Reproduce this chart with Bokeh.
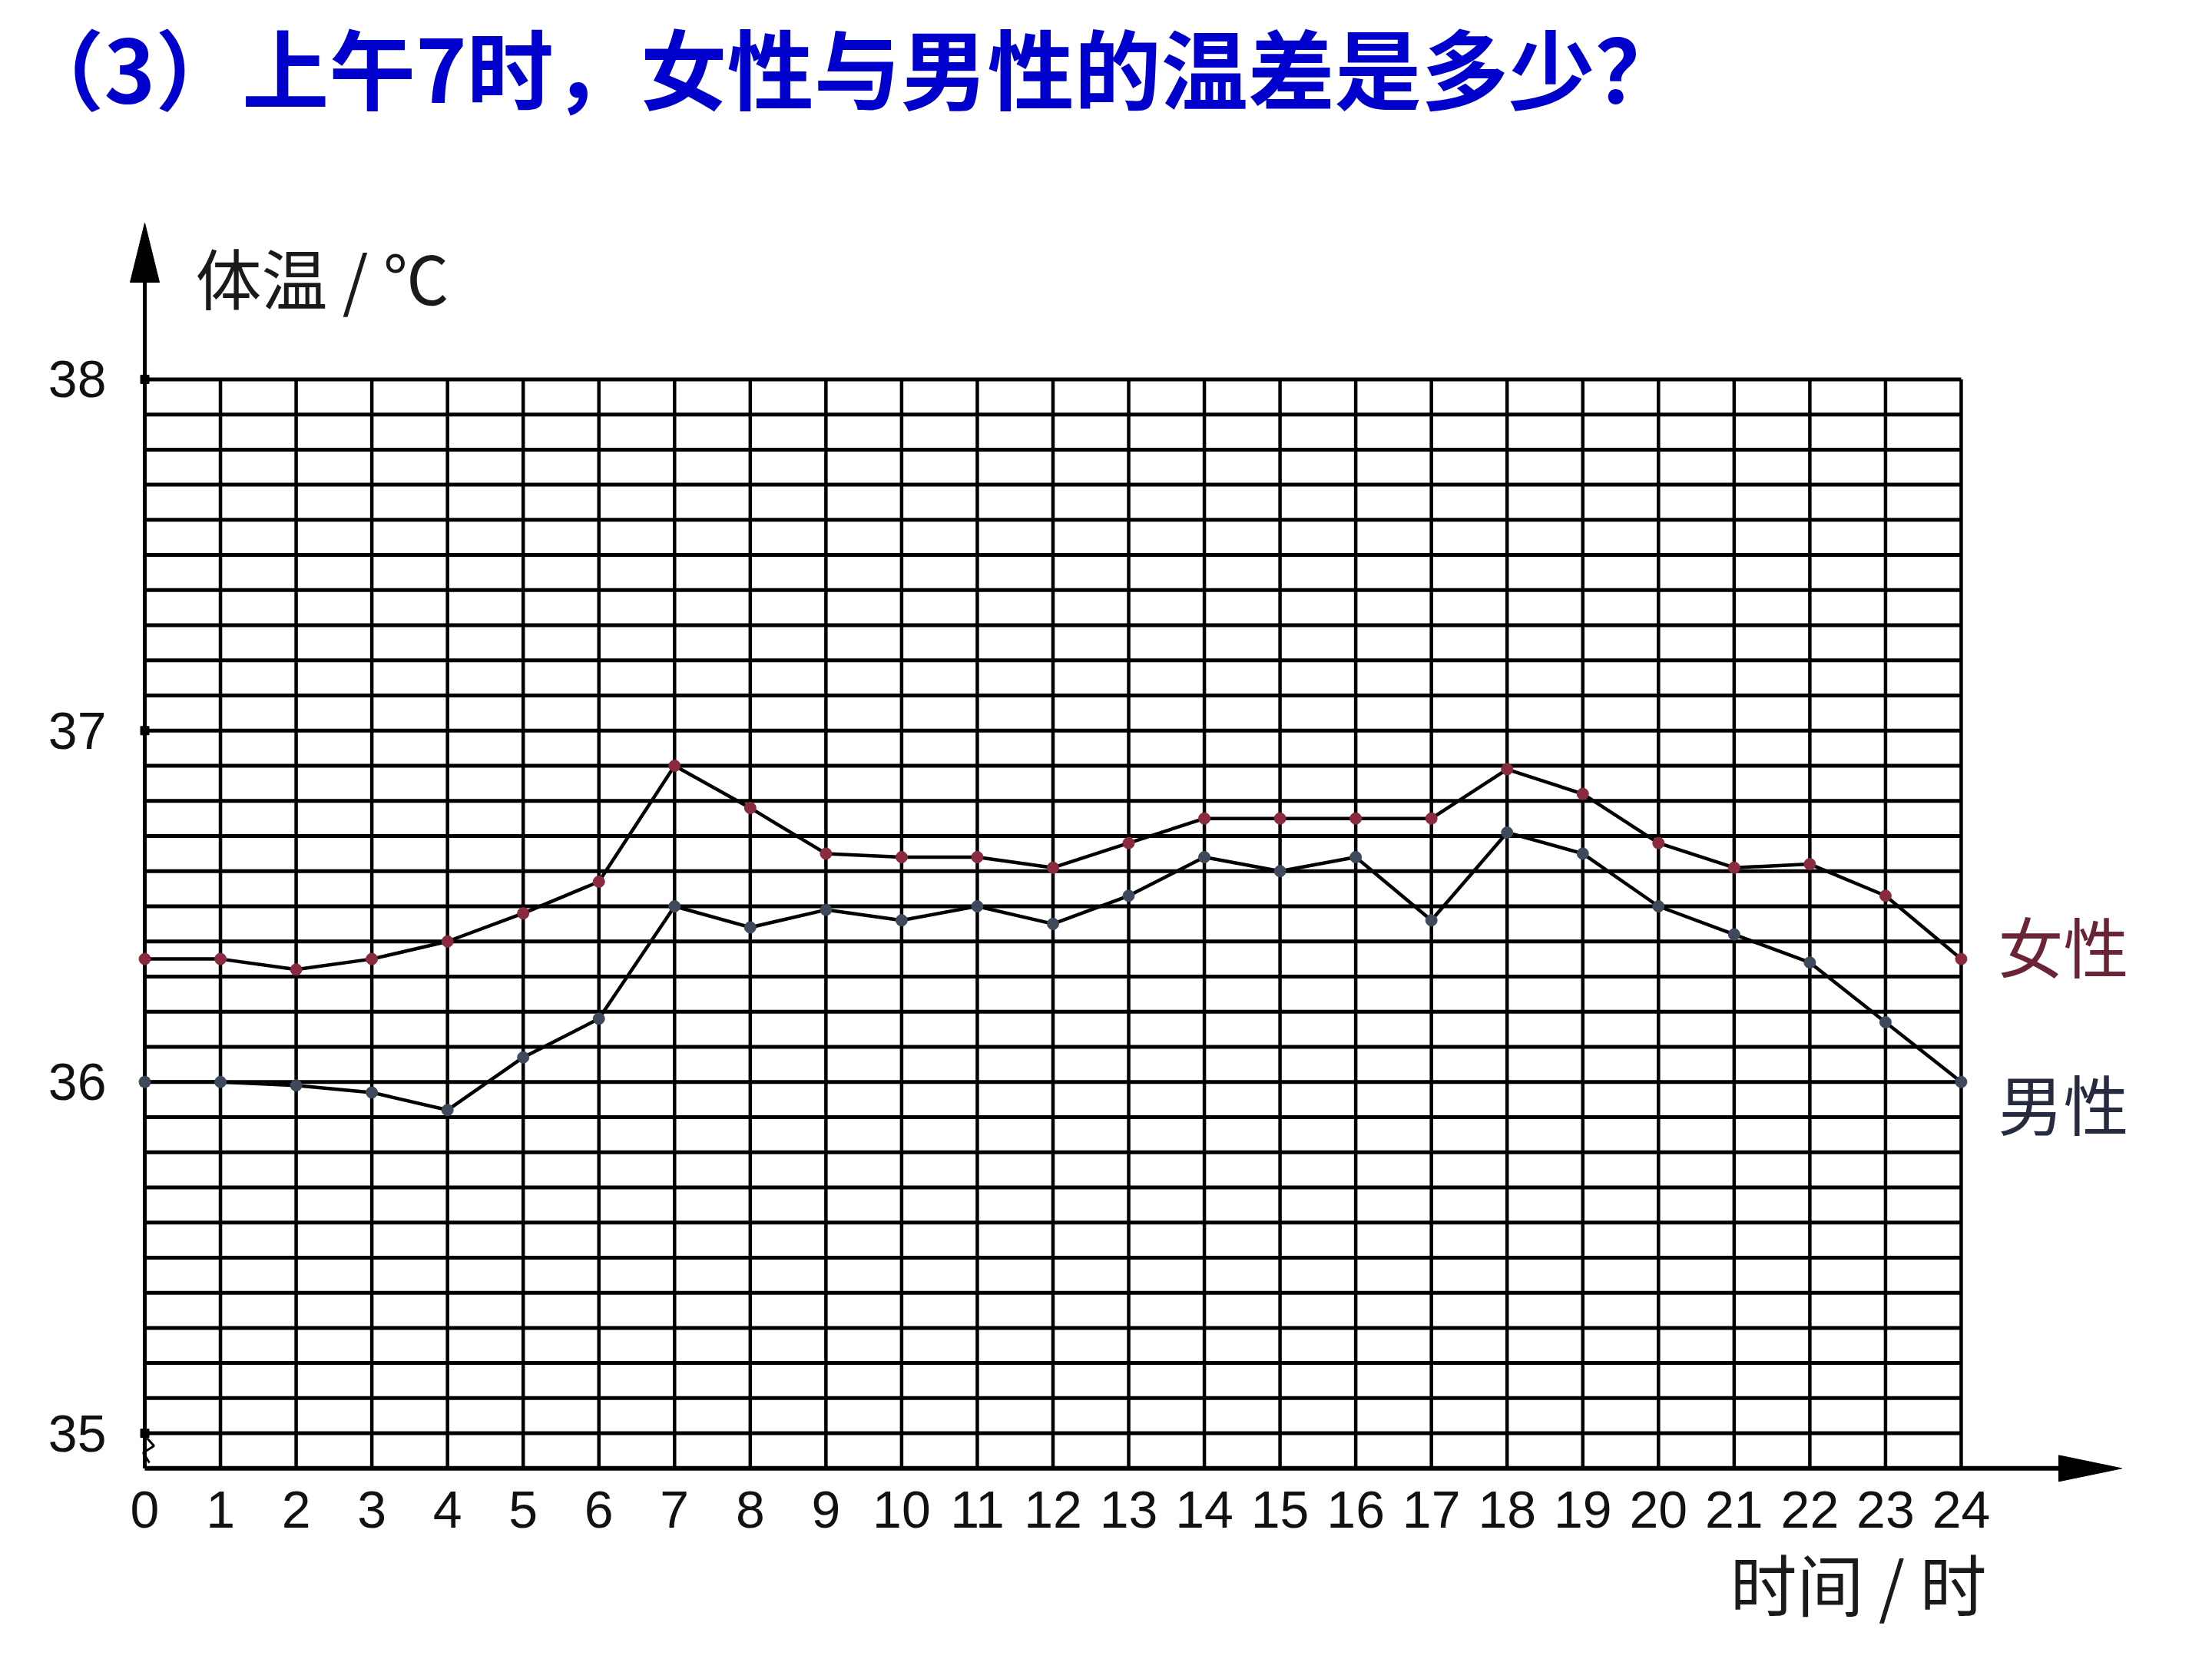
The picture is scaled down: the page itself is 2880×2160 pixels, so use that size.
from bokeh.plotting import figure
from bokeh.models import Range1d
from bokeh.embed import file_html
from bokeh.resources import INLINE
from bokeh.core.properties import value

# ---------------- data ----------------
hours = list(range(25))
hour_labels = [str(h) for h in hours]
female = [36.35, 36.35, 36.32, 36.35, 36.40, 36.48, 36.57, 36.90, 36.78, 36.65,
          36.64, 36.64, 36.61, 36.68, 36.75, 36.75, 36.75, 36.75, 36.89, 36.82,
          36.68, 36.61, 36.62, 36.53, 36.35]
male = [36.00, 36.00, 35.99, 35.97, 35.92, 36.07, 36.18, 36.50, 36.44, 36.49,
        36.46, 36.50, 36.45, 36.53, 36.64, 36.60, 36.64, 36.46, 36.71, 36.65,
        36.50, 36.42, 36.34, 36.17, 36.00]
y_ticks = [35, 36, 37, 38]
y_tick_labels = ["35", "36", "37", "38"]
grid_levels = [round(35 + i / 10, 1) for i in range(31)]
axis_base = 34.9

title_text = "（3）上午7时，女性与男性的温差是多少？"
y_label_text = "体温 / ℃"
x_label_text = "时间 / 时"
female_name = "女性"
male_name = "男性"

# ---------------- layout helpers (page pixels -> data) ----------------
X0_PAGE = 196.0
PX_PER_HOUR = 98.54
Y38_PAGE = 501.4
PX_PER_DEG = 457.4


def xd(px):
    return (px - X0_PAGE) / PX_PER_HOUR


def yd(py):
    return 38 - (py - Y38_PAGE) / PX_PER_DEG


W, H = 2864, 2144

p = figure(width=W, height=H, output_backend="svg", toolbar_location=None,
           title=None, x_axis_location=None, y_axis_location=None,
           x_range=Range1d(xd(8), xd(8 + W)),
           y_range=Range1d(yd(8 + H), yd(8)),
           min_border=0, min_border_left=0, min_border_right=0,
           min_border_top=0, min_border_bottom=0)
p.outline_line_color = None
p.xgrid.visible = False
p.ygrid.visible = False
p.background_fill_color = "white"
p.border_fill_color = "white"

# ---------------- grid ----------------
p.segment(x0=hours[1:], y0=[axis_base] * 24, x1=hours[1:], y1=[38.0] * 24,
          line_color="black", line_width=4.5)
p.segment(x0=[0] * len(grid_levels), y0=grid_levels,
          x1=[24] * len(grid_levels), y1=grid_levels,
          line_color="black", line_width=5)

# ---------------- axes with arrows ----------------
y_arrow_base = yd(368)
x_arrow_base = xd(2692)
p.segment(x0=[0], y0=[axis_base], x1=[0], y1=[y_arrow_base], line_color="black", line_width=5)
p.segment(x0=[0], y0=[axis_base], x1=[x_arrow_base], y1=[axis_base], line_color="black", line_width=6)
p.patch(x=[xd(X0_PAGE - 19), xd(X0_PAGE), xd(X0_PAGE + 19)],
        y=[yd(375), yd(298), yd(375)], fill_color="black", line_color="black")
ax_py = Y38_PAGE + (38 - axis_base) * PX_PER_DEG
p.patch(x=[xd(2688), xd(2770), xd(2688)],
        y=[yd(ax_py - 17), yd(ax_py), yd(ax_py + 17)], fill_color="black", line_color="black")
p.scatter(x=[0] * len(y_ticks), y=y_ticks, marker="square", size=11,
          fill_color="black", line_color="black")
p.line(x=[xd(199), xd(208), xd(194), xd(202)],
       y=[yd(1880), yd(1890), yd(1899), yd(1912)], line_color="black", line_width=3)

# ---------------- tick labels ----------------
tick_font = value("Liberation Sans")
p.text(x=hours, y=[yd(1973)] * len(hours), text=hour_labels,
       text_font=tick_font, text_font_size="68px", text_color="#111111",
       text_align="center", text_baseline="middle")
p.text(x=[xd(146)] * len(y_ticks), y=y_ticks, text=y_tick_labels,
       text_font=tick_font, text_font_size="68px", text_color="#111111",
       text_align="right", text_baseline="middle")

# ---------------- series ----------------
p.line(hours, female, line_color="black", line_width=4.5)
p.line(hours, male, line_color="black", line_width=4.5)
p.scatter(hours, female, marker="circle", size=15, fill_color="#8a2a3e", line_color="#8a2a3e")
p.scatter(hours, male, marker="circle", size=15, fill_color="#3e4a5c", line_color="#3e4a5c")

# ---------------- texts ----------------
cjk = value("Noto Sans CJK SC")
p.text(x=[xd(30)], y=[yd(92)], text=[title_text], text_font=cjk,
       text_font_size="113px", text_font_style="bold",
       text_color="#0000cc", text_align="left", text_baseline="middle")
p.text(x=[xd(262)], y=[yd(367)], text=[y_label_text], text_font=cjk,
       text_font_size="86px", text_color="#1a1a1a",
       text_align="left", text_baseline="middle")
p.text(x=[xd(2594)], y=[yd(2067)], text=[x_label_text], text_font=cjk,
       text_font_size="87px", text_color="#1a1a1a",
       text_align="right", text_baseline="middle")
p.text(x=[xd(2609)], y=[yd(1237)], text=[female_name], text_font=cjk,
       text_font_size="85px", text_color="#6a2435",
       text_align="left", text_baseline="middle")
p.text(x=[xd(2609)], y=[yd(1442)], text=[male_name], text_font=cjk,
       text_font_size="85px", text_color="#262b40",
       text_align="left", text_baseline="middle")

open("out.html", "w").write(file_html(p, INLINE))
